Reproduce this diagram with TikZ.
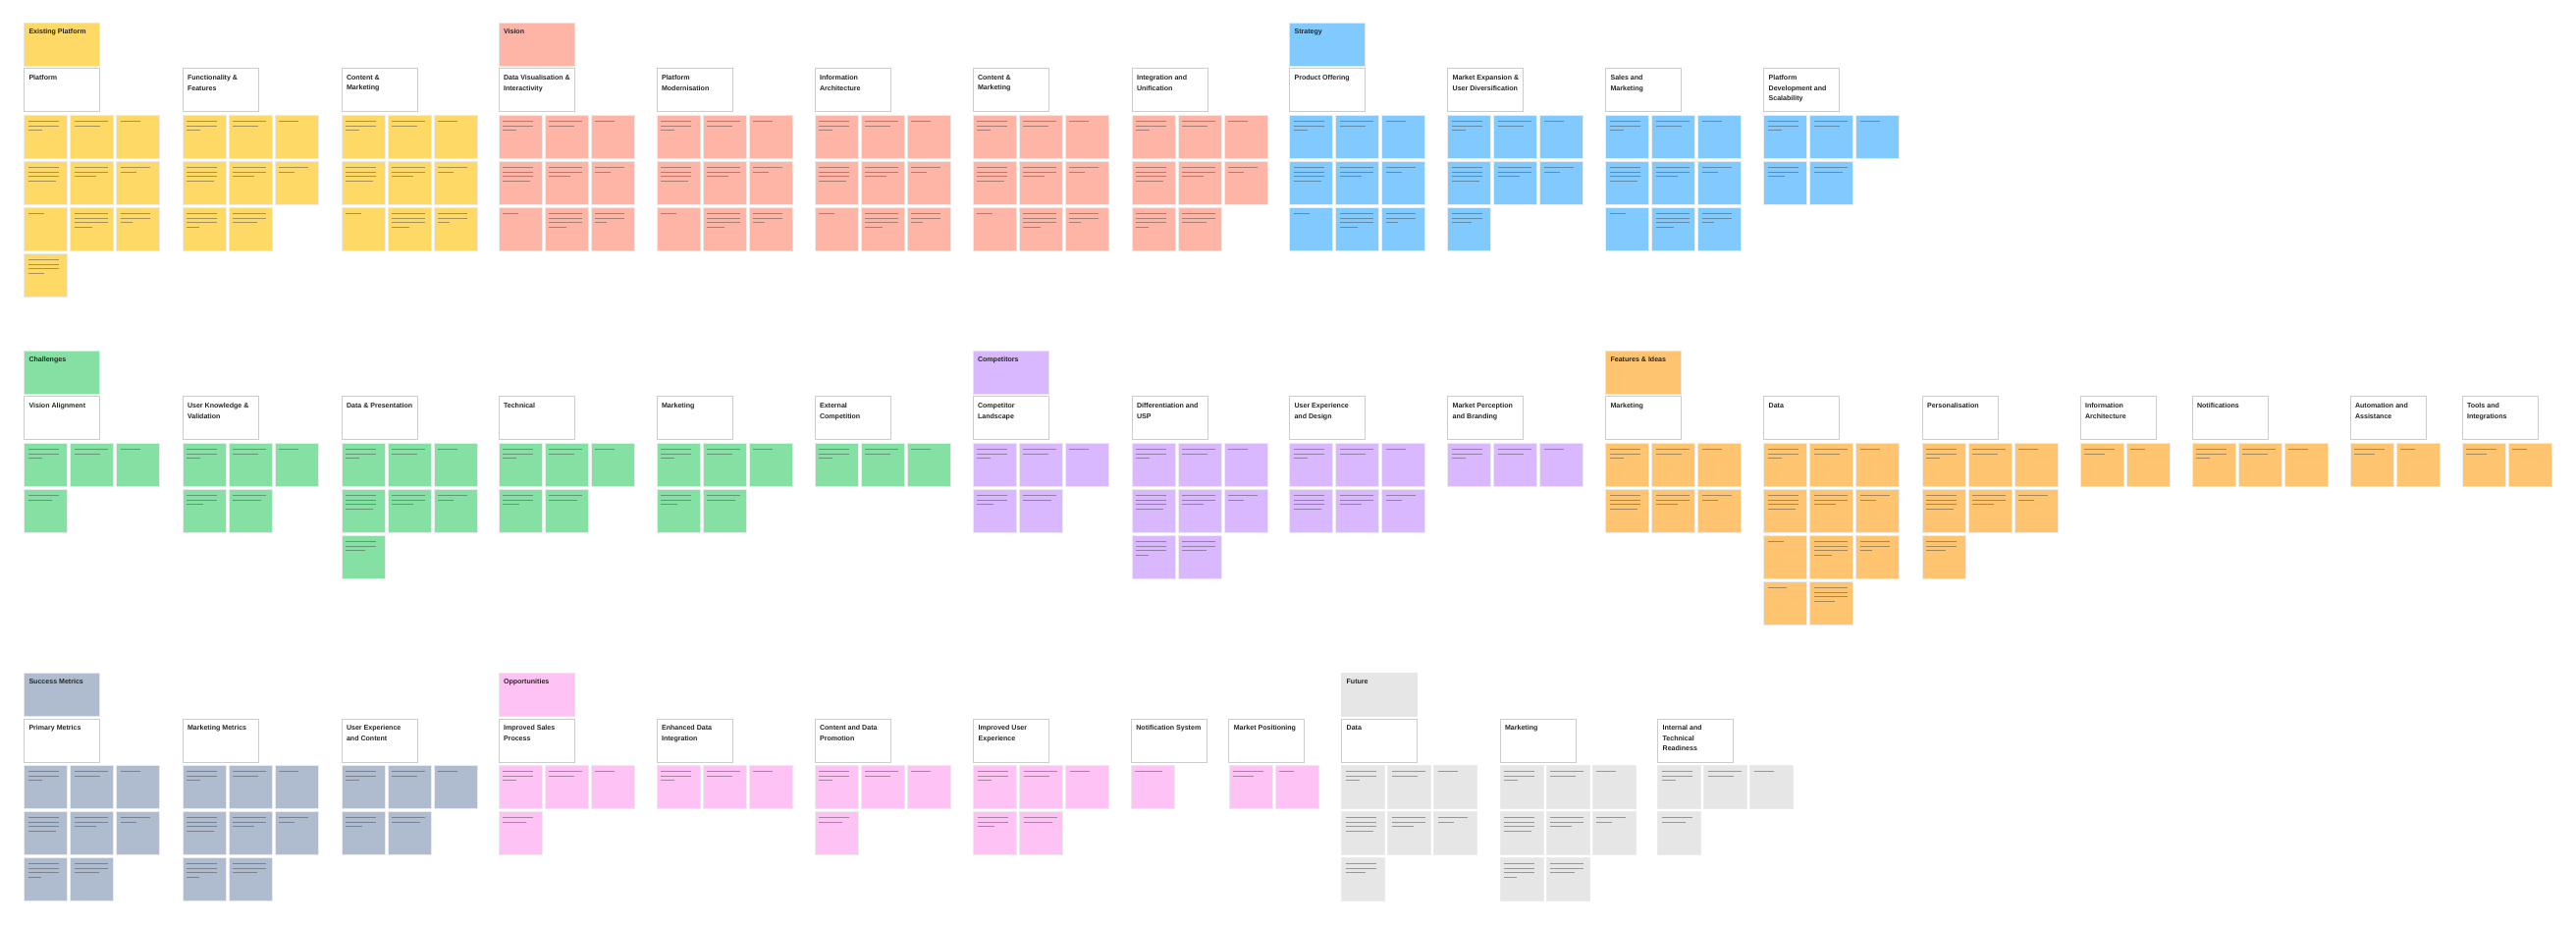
\documentclass[tikz,border=0pt]{standalone}
\usepackage{fontspec}
\setmainfont{Liberation Sans}

\definecolor{noteyellow}{HTML}{FFD966}
\definecolor{notesalmon}{HTML}{FFB5A5}
\definecolor{noteblue}{HTML}{80CAFF}
\definecolor{notegreen}{HTML}{85E0A3}
\definecolor{notepurple}{HTML}{D9B8FF}
\definecolor{noteorange}{HTML}{FFC470}
\definecolor{notepink}{HTML}{FFC2F5}
\definecolor{noteslate}{HTML}{AFBCCF}
\definecolor{notegrey}{HTML}{E6E6E6}

\tikzset{every picture/.style={line width=0.75pt}}
\tikzset{
  sticky/.style={anchor=north west, minimum width=33pt, minimum height=33pt, inner sep=0pt, outer sep=0pt, draw=black!8, line width=0.4pt},
  titlebox/.style={anchor=north west, minimum width=57.75pt, minimum height=33pt, inner sep=0pt, outer sep=0pt, fill=white, draw=black!20, line width=0.75pt},
  headbox/.style={anchor=north west, minimum width=57.75pt, minimum height=33pt, inner sep=0pt, outer sep=0pt, draw=black!10, line width=0.5pt},
  titletext/.style={anchor=north west, inner xsep=3.4pt, inner ysep=4.4pt, align=left, font=\fontsize{5.3}{8}\selectfont\bfseries, text=black!85},
  noteline/.style={draw=black!70, line width=0.75pt, opacity=0.5}
}

% category box: name, x, y (of the title row), colour, text
\newcommand{\catbox}[5]{%
  \node[headbox, fill=#4] (#1) at (#2,#3-47) {};
  \node[titletext] (#1-t) at (#1.north west) {#5};
}

% title box with its stickies: name, x, y, colour, title, stickies per row
\newcommand{\notegroup}[6]{%
  \node[titlebox] (#1) at (#2,#3) {};
  \node[titletext] (#1-t) at (#1.north west) {#5};
  \foreach \n [count=\r from 0] in {#6} {
    \foreach \c in {1,...,\n} {
      \pgfmathsetmacro\sx{#2+47*(\c-1)}
      \pgfmathsetmacro\sy{#3+47*(\r+1)}
      \node[sticky, fill=#4] (#1-\r-\c) at (\sx,\sy) {};
      \pgfmathtruncatemacro\nl{mod(\r*5+\c*7+\n,4)+1}
      \foreach \l in {1,...,\nl} {
        \pgfmathsetmacro\ly{\sy+2.5+4.4*\l}
        \pgfmathsetmacro\len{\l==\nl ? 12+mod(\l*11+\c*5+\r*3,18) : 28+mod(\l*7+\c*3,7)}
        \draw[noteline] (\sx+4,\ly) -- ++(\len,0);
      }
    }
  }
}

\begin{document}
\begin{tikzpicture}[x=0.75pt,y=0.75pt,yscale=-1,xscale=1]
\fill[white] (0,0) rectangle (2624,944);
\path[use as bounding box] (0,0) rectangle (2624,944);

% Existing Platform
\catbox{exist}{24.5}{70}{noteyellow}{Existing Platform}
\notegroup{plat}{24.5}{70}{noteyellow}{Platform}{3,3,3,1}
\notegroup{func}{186}{70}{noteyellow}{Functionality \&\\Features}{3,3,2}
\notegroup{cont}{348}{70}{noteyellow}{Content \&\\Marketing}{3,3,3}

% Vision
\catbox{vision}{508}{70}{notesalmon}{Vision}
\notegroup{datavis}{508}{70}{notesalmon}{Data Visualisation \&\\Interactivity}{3,3,3}
\notegroup{modern}{669}{70}{notesalmon}{Platform\\Modernisation}{3,3,3}
\notegroup{infoarch}{830}{70}{notesalmon}{Information\\Architecture}{3,3,3}
\notegroup{visioncont}{991}{70}{notesalmon}{Content \&\\Marketing}{3,3,3}
\notegroup{integ}{1153}{70}{notesalmon}{Integration and\\Unification}{3,3,2}

% Strategy
\catbox{strategy}{1313.5}{70}{noteblue}{Strategy}
\notegroup{offer}{1313.5}{70}{noteblue}{Product Offering}{3,3,3}
\notegroup{expand}{1474.6}{70}{noteblue}{Market Expansion \&\\User Diversification}{3,3,1}
\notegroup{sales}{1635.5}{70}{noteblue}{Sales and\\Marketing}{3,3,3}
\notegroup{scale}{1796.6}{70}{noteblue}{Platform\\Development and\\Scalability}{3,2}

% Challenges
\catbox{challenges}{24.5}{404}{notegreen}{Challenges}
\notegroup{align}{24.5}{404}{notegreen}{Vision Alignment}{3,1}
\notegroup{knowledge}{186}{404}{notegreen}{User Knowledge \&\\Validation}{3,2}
\notegroup{datapres}{348}{404}{notegreen}{Data \& Presentation}{3,3,1}
\notegroup{technical}{508}{404}{notegreen}{Technical}{3,2}
\notegroup{chalmark}{669}{404}{notegreen}{Marketing}{3,2}
\notegroup{extcomp}{830}{404}{notegreen}{External\\Competition}{3}

% Competitors
\catbox{competitors}{991}{404}{notepurple}{Competitors}
\notegroup{landscape}{991}{404}{notepurple}{Competitor\\Landscape}{3,2}
\notegroup{usp}{1153}{404}{notepurple}{Differentiation and\\USP}{3,3,2}
\notegroup{uxdesign}{1313.5}{404}{notepurple}{User Experience\\and Design}{3,3}
\notegroup{branding}{1474.6}{404}{notepurple}{Market Perception\\and Branding}{3}

% Features & Ideas
\catbox{features}{1635.5}{404}{noteorange}{Features \& Ideas}
\notegroup{featmark}{1635.5}{404}{noteorange}{Marketing}{3,3}
\notegroup{featdata}{1796.6}{404}{noteorange}{Data}{3,3,3,2}
\notegroup{personal}{1958}{404}{noteorange}{Personalisation}{3,3,1}
\notegroup{featinfo}{2119}{404}{noteorange}{Information\\Architecture}{2}
\notegroup{notif}{2233}{404}{noteorange}{Notifications}{3}
\notegroup{autom}{2394}{404}{noteorange}{Automation and\\Assistance}{2}
\notegroup{tools}{2508}{404}{noteorange}{Tools and\\Integrations}{2}

% Success Metrics
\catbox{success}{24.5}{732}{noteslate}{Success Metrics}
\notegroup{primary}{24.5}{732}{noteslate}{Primary Metrics}{3,3,2}
\notegroup{markmetric}{186}{732}{noteslate}{Marketing Metrics}{3,3,2}
\notegroup{uxcont}{348}{732}{noteslate}{User Experience\\and Content}{3,2}

% Opportunities
\catbox{opport}{508}{732}{notepink}{Opportunities}
\notegroup{salesproc}{508}{732}{notepink}{Improved Sales\\Process}{3,1}
\notegroup{dataint}{669}{732}{notepink}{Enhanced Data\\Integration}{3}
\notegroup{promo}{830}{732}{notepink}{Content and Data\\Promotion}{3,1}
\notegroup{betterux}{991.6}{732}{notepink}{Improved User\\Experience}{3,2}
\notegroup{notifsys}{1152.3}{732}{notepink}{Notification System}{1}
\notegroup{position}{1251.8}{732}{notepink}{Market Positioning}{2}

% Future
\catbox{future}{1366.6}{732}{notegrey}{Future}
\notegroup{futdata}{1366.6}{732}{notegrey}{Data}{3,3,1}
\notegroup{futmark}{1528}{732}{notegrey}{Marketing}{3,3,2}
\notegroup{ready}{1688.6}{732}{notegrey}{Internal and\\Technical\\Readiness}{3,1}

\end{tikzpicture}
\end{document}
